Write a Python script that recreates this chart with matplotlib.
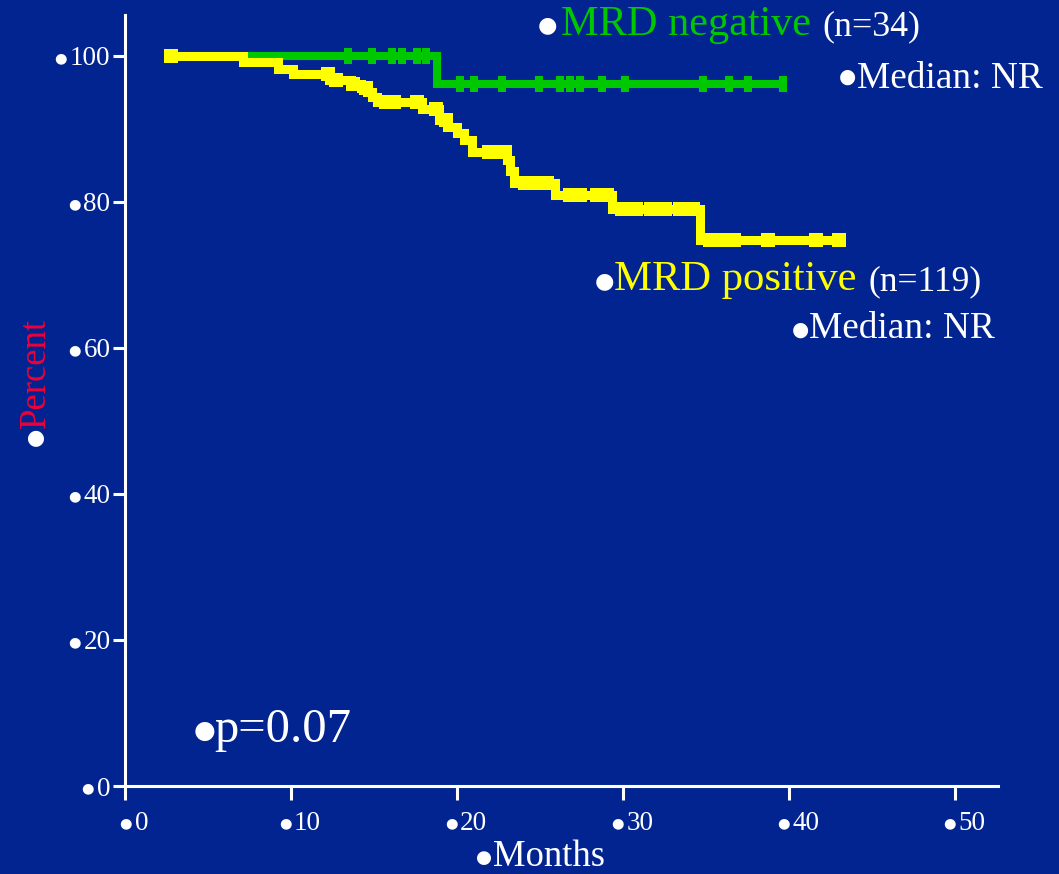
import numpy as np
import matplotlib
matplotlib.use("Agg")
import matplotlib.pyplot as plt
import matplotlib.transforms as mtransforms
from matplotlib.path import Path
from matplotlib.textpath import TextPath
from matplotlib.font_manager import FontProperties

plt.rcParams["font.family"] = ["Liberation Serif", "DejaVu Serif"]

BG = "#022490"
GREEN = "#00C800"
YELLOW = "#FFFF00"
RED = "#F00038"

# MRD negative (n=34): step curve (months, percent) and censored times
neg_times = [2.8, 18.8, 39.7]
neg_surv = [100.0, 96.2, 96.2]
neg_censor = [13.4, 14.9, 16.1, 16.7, 17.6, 18.1, 20.2, 21.0, 22.7, 24.9,
              26.2, 26.8, 27.4, 28.7, 30.1, 34.8, 36.4, 37.5, 39.6]

# MRD positive (n=119)
pos_times = [2.8, 7.1, 9.2, 10.1, 12.3, 13.6, 14.2, 14.6, 14.9, 15.2, 17.9,
             18.9, 19.4, 20.0, 20.4, 20.9, 23.0, 23.2, 23.4, 25.9, 29.3,
             34.6, 43.1]
pos_surv = [100.0, 99.2, 98.2, 97.5, 96.7, 96.1, 95.6, 95.1, 94.4, 93.7, 92.7,
            91.2, 90.3, 89.4, 88.5, 86.9, 85.8, 84.2, 82.6, 81.0, 79.0,
            74.8, 74.8]
pos_censor = [2.8, 12.2, 12.7, 13.7, 14.5, 15.7, 16.2, 17.6, 18.7, 19.3, 21.9,
              22.4, 22.9, 24.1, 24.8, 25.4, 26.8, 27.4, 28.4, 29.0, 29.9,
              30.8, 31.7, 32.5, 33.4, 34.2, 35.2, 35.9, 36.7, 38.7, 41.6, 43.0]

x_ticks = [0, 10, 20, 30, 40, 50]
y_ticks = [0, 20, 40, 60, 80, 100]

W, H = 1059, 874


def surv_at(times, surv, t):
    idx = np.searchsorted(times, t, side="right") - 1
    return np.asarray(surv)[np.clip(idx, 0, len(surv) - 1)]


fig = plt.figure(figsize=(W / 100, H / 100), dpi=100, facecolor=BG)
ax = fig.add_axes([125 / W, 1 - 786 / H, (997.7 - 125) / W, (786 - 15) / H])
ax.set_facecolor(BG)

bar_marker = Path([(-0.25, -0.5), (0.25, -0.5), (0.25, 0.5), (-0.25, 0.5), (-0.25, -0.5)],
                  [Path.MOVETO, Path.LINETO, Path.LINETO, Path.LINETO, Path.CLOSEPOLY])

line_kw = dict(where="post", solid_joinstyle="miter", solid_capstyle="butt")
ax.step(neg_times, neg_surv, color=GREEN, lw=5.8, **line_kw)
ax.plot(neg_censor, surv_at(neg_times, neg_surv, neg_censor), ls="none",
        marker=bar_marker, ms=11.5, color=GREEN, mew=0)
ax.step(pos_times, pos_surv, color=YELLOW, lw=6.5, **line_kw)
ax.plot(pos_censor, surv_at(pos_times, pos_surv, pos_censor), ls="none",
        marker="s", ms=10, color=YELLOW, mew=0)

ax.set_xlim(0, 52.55)
ax.set_ylim(0, 105.6)
for side in ["top", "right"]:
    ax.spines[side].set_visible(False)
for side in ["left", "bottom"]:
    ax.spines[side].set_color("white")
    ax.spines[side].set_linewidth(2.2)

ax.set_xticks(x_ticks)
ax.set_xticklabels([str(v) for v in x_ticks])
ax.set_yticks(y_ticks)
ax.set_yticklabels([str(v) for v in y_ticks])
ax.tick_params(axis="x", direction="out", length=10, width=2.2, color="white",
               labelcolor="white", labelsize=19.5, pad=8)
ax.tick_params(axis="y", direction="out", length=9, width=2.2, color="white",
               labelcolor="white", labelsize=19.5, pad=1.5)
shift = mtransforms.ScaledTranslation(0.165, 0, fig.dpi_scale_trans)
for lbl in ax.get_xticklabels():
    lbl.set_transform(lbl.get_transform() + shift)

# measure the bullet glyph (in em) so it can be centred exactly
DOT = "\u25cf"
dot_prop = FontProperties(family="DejaVu Sans")
ext = TextPath((0, 0), DOT, size=1, prop=dot_prop).get_extents()
dot_d = ext.height
dot_cx = (ext.x0 + ext.x1) / 2
dot_cy = (ext.y0 + ext.y1) / 2


def bullet(cx, cy, diam, rotated=False):
    # white bullet centred on (cx, cy), pixel coords from the top-left
    fpx = diam / dot_d
    up = H - cy
    kw = dict(color="white", fontsize=fpx * 0.72, family="DejaVu Sans",
              ha="left", va="baseline")
    if rotated:
        fig.text((cx + dot_cy * fpx) / W, (up - dot_cx * fpx) / H, DOT,
                 rotation=90, rotation_mode="anchor", **kw)
    else:
        fig.text((cx - dot_cx * fpx) / W, (up - dot_cy * fpx) / H, DOT, **kw)


def put(x, y, s, color, size, **kw):
    fig.text(x / W, 1 - y / H, s, color=color, fontsize=size,
             ha="left", va="baseline", **kw)


# group labels
bullet(547, 25, 17)
put(561, 35, "MRD negative", GREEN, 30.4)
put(822, 35, "(n=34)", "white", 25.8)
bullet(847, 78, 15)
put(857, 88, "Median: NR", "white", 26.8)

bullet(604, 281, 17)
put(614, 290, "MRD positive", YELLOW, 30.7)
put(869, 290, "(n=119)", "white", 25.6)
bullet(800, 331, 15)
put(809, 338, "Median: NR", "white", 26.8)

bullet(204, 731, 19)
put(214, 742, "p=0.07", "white", 35)

bullet(484, 858, 14)
put(493, 866, "Months", "white", 26.4)

bullet(35, 437, 16, rotated=True)
fig.text(45 / W, 1 - 428 / H, "Percent", color=RED, fontsize=26.5,
         rotation=90, rotation_mode="anchor", ha="left", va="baseline")

# bullets in front of the tick labels
fig.canvas.draw()
renderer = fig.canvas.get_renderer()
for lbl in ax.get_xticklabels() + ax.get_yticklabels():
    bb = lbl.get_window_extent(renderer)
    bullet(bb.x0 - 9, H - (bb.y0 + bb.y1) / 2, 11)

fig.savefig("out.png", dpi=100, facecolor=BG)
